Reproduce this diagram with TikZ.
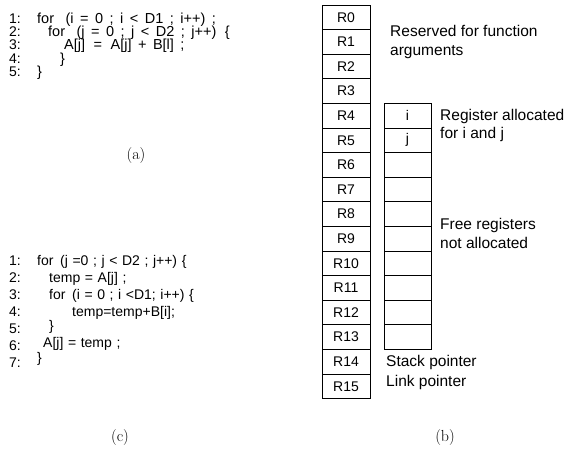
\documentclass[tikz,border=0pt]{standalone}
\usepackage{fontspec}
\newfontfamily\arial{Liberation Sans}
\newcommand\wsA{\spaceskip=6.5pt\relax}
\newcommand\wsC{\spaceskip=4.6pt\relax}
\begin{document}
\begin{tikzpicture}[x=1pt,y=-1pt,
  reg/.style={draw, line width=0.9pt, minimum width=48pt, minimum height=24.6pt, inner sep=0pt,
    font=\arial\fontsize{14}{14}\selectfont},
  free/.style={reg, minimum width=47pt},
  note/.style={anchor=base west, inner sep=0pt, font=\arial\fontsize{15.5}{15.5}\selectfont},
  num/.style={anchor=base west, inner sep=0pt, font=\arial\fontsize{14}{14}\selectfont},
  codea/.style={anchor=base west, inner sep=0pt, font=\arial\fontsize{14.5}{14.5}\selectfont},
  code/.style={anchor=base west, inner sep=0pt, font=\arial\fontsize{14}{14}\selectfont},
  figcap/.style={inner sep=0pt, font=\fontsize{16}{16}\selectfont}]
\useasboundingbox (0,0) rectangle (577,450);
% register file
\foreach \i in {0,...,15} \node[reg] (r\i) at (346,{17.3+24.6*\i}) {R\i};
\foreach \i in {4,...,13} \node[free] (f\i) at (407.5,{17.3+24.6*\i}) {};
\node[inner sep=0pt, font=\arial\fontsize{14}{14}\selectfont] (vi) at (f4) {i};
\node[inner sep=0pt, font=\arial\fontsize{14}{14}\selectfont] (vj) at (f5) {j};
\node[note] (n1) at (390,36) {Reserved for function};
\node[note] (n2) at (390,55) {arguments};
\node[note] (n3) at (440,120) {Register allocated};
\node[note] (n4) at (440,138) {for i and j};
\node[note] (n5) at (440,229) {Free registers};
\node[note] (n6) at (440,248) {not allocated};
\node[note] (n7) at (386,366) {Stack pointer};
\node[note] (n8) at (386,386) {Link pointer};
% code (a)
\node[num] (a1) at (9,23) {1:};
\node[num] (a2) at (9,36.3) {2:};
\node[num] (a3) at (9,49.6) {3:};
\node[num] (a4) at (9,63) {4:};
\node[num] (a5) at (9,76.3) {5:};
\node[codea] (ac1) at (37,23) {\wsA for\hspace{5pt} (i = 0 ; i < D1 ; i++) ;};
\node[codea] (ac2) at (48,36.3) {\wsA for\hspace{5pt} (j = 0 ; j < D2 ; j++)\hspace{2pt} \{};
\node[codea] (ac3) at (64,49.6) {\wsA A[j]\hspace{2pt} = \hspace{2pt}A[j] + B[l] ;};
\node[codea] (ac4) at (60,63) {\}};
\node[codea] (ac5) at (37,76.3) {\}};
\node[figcap] (capa) at (136,156) {(a)};
% code (c)
\node[num] (c1) at (9,265) {1:};
\node[num] (c2) at (9,282) {2:};
\node[num] (c3) at (9,299) {3:};
\node[num] (c4) at (9,316) {4:};
\node[num] (c5) at (9,333) {5:};
\node[num] (c6) at (9,350) {6:};
\node[num] (c7) at (9,367) {7:};
\node[code] (cc1) at (37,265) {\wsC for\hspace{2pt} (j =0 ; j < D2 ; j++) \{};
\node[code] (cc2) at (49,282) {\wsC temp = A[j] ;};
\node[code] (cc3) at (49,299) {\wsC for\hspace{2pt} (i = 0 ; i <D1; i++) \{};
\node[code] (cc4) at (72,316) {temp=temp+B[i];};
\node[code] (cc5) at (49,330) {\}};
\node[code] (cc6) at (43,347) {\wsC A[j] = temp ;};
\node[code] (cc7) at (37,362) {\}};
\node[figcap] (capc) at (120,437) {(c)};
\node[figcap] (capb) at (445,437) {(b)};
\end{tikzpicture}
\end{document}
